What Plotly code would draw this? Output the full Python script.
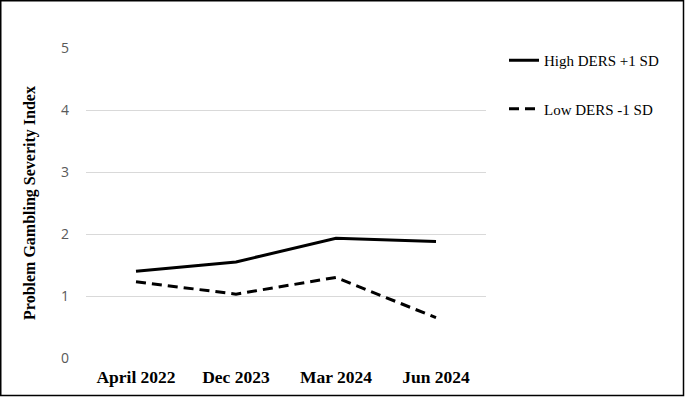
import plotly.graph_objects as go

categories = ["April 2022", "Dec 2023", "Mar 2024", "Jun 2024"]
high_ders = [1.40, 1.55, 1.93, 1.88]
low_ders = [1.23, 1.03, 1.30, 0.65]
series_names = ["High DERS +1 SD", "Low DERS -1 SD"]
y_ticks = [0, 1, 2, 3, 4, 5]

W, H = 685, 397
L, R, T, B = 86, 199, 48, 39
pw, ph = W - L - R, H - T - B

fig = go.Figure()
fig.add_trace(go.Scatter(x=categories, y=high_ders, mode="lines", name=series_names[0],
                         legendgroup="a",
                         line=dict(color="black", width=3)))
fig.add_trace(go.Scatter(x=categories, y=low_ders, mode="lines", name=series_names[1],
                         legendgroup="b",
                         line=dict(color="black", width=3, dash="10px,6px")))

fig.update_layout(
    width=W, height=H, autosize=False,
    margin=dict(l=L, r=R, t=T, b=B, autoexpand=False),
    paper_bgcolor="white", plot_bgcolor="white",
    showlegend=True,
    legend=dict(x=(504 - L) / pw, y=(H - 44 - B) / ph, xanchor="left", yanchor="top",
                font=dict(family="Liberation Serif", size=15, color="black"),
                traceorder="grouped", tracegroupgap=26,
                bgcolor="rgba(0,0,0,0)", itemwidth=30),
    xaxis=dict(type="category", range=[-0.5, 3.5], showgrid=False, zeroline=False,
               showline=False, ticks="", automargin=False,
               tickfont=dict(family="Liberation Serif", size=17.5, color="black", weight="bold"),
               ticklabelstandoff=6),
    yaxis=dict(range=[0, 5], tickvals=y_ticks, showgrid=True, gridcolor="#d9d9d9",
               gridwidth=1, zeroline=False, showline=False, ticks="", automargin=False,
               tickfont=dict(family="Open Sans", size=14, color="#595959"),
               ticklabelstandoff=16,
               title=dict(text="Problem Gambling Severity Index", standoff=21,
                          font=dict(family="Liberation Serif", size=16, color="black", weight="bold"))),
)

fig.add_shape(type="rect", xref="paper", yref="paper",
              x0=-(L - 0.75) / pw, x1=(W - L - 1.5) / pw,
              y0=-(B - 1.5) / ph, y1=(H - B - 0.75) / ph,
              line=dict(color="black", width=1.5), layer="above")

fig.write_html("out.html",
               config={"displayModeBar": False, "responsive": False},
               post_script="document.body.style.margin='0';document.body.style.overflow='hidden';")
